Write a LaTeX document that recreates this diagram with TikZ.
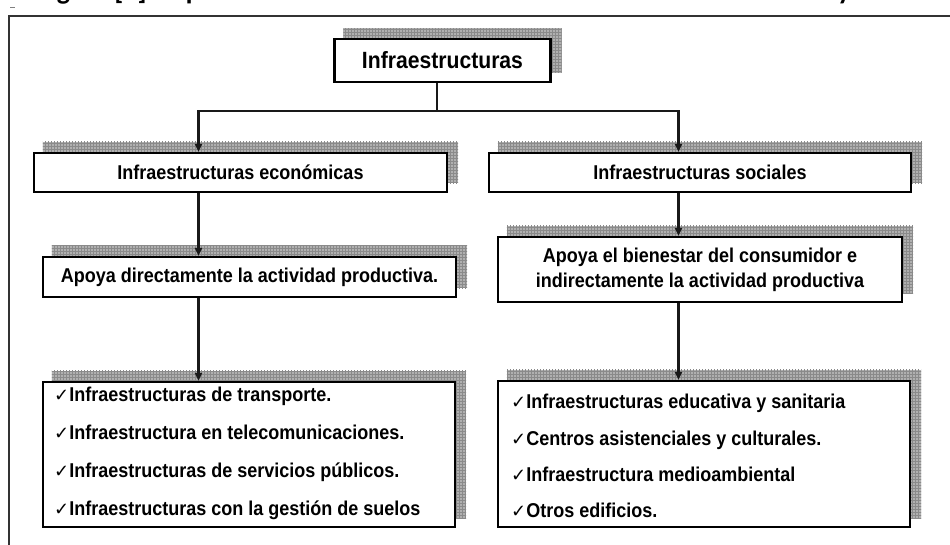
\documentclass[tikz,border=0pt]{standalone}
\usepackage{fontspec}
\setmainfont{Liberation Sans}[FakeStretch=0.9]
\newfontfamily\chkfont{DejaVu Sans}
\newfontfamily\titlefont{Carlito}
\usetikzlibrary{arrows.meta,patterns,backgrounds}
\newcommand\mychk{{\chkfont\fontsize{18}{18}\selectfont ✓}}
\newcommand\titletext{Figura [1] Esquema de conformación de la infraestructura económica y social}
\newlength\titlewd
\begin{document}
\settowidth\titlewd{\titlefont\bfseries\fontsize{24}{24}\selectfont\titletext}%
\pgfmathsetmacro\titlesize{885/\titlewd*24}%
\begin{tikzpicture}[x=1pt,y=-1pt,
  box/.style={draw=black, line width=2.2pt, fill=white, inner sep=0pt, font=\bfseries\fontsize{20}{25}\selectfont},
  shadowbox/.style={fill=gray!62, postaction={pattern=grid, pattern color=gray!92}},
  conn/.style={line width=2.2pt, draw=black!90},
  arr/.style={conn, -{Triangle[length=8pt,width=7pt]}},
  item/.style={anchor=base west, inner sep=0pt, font=\bfseries\fontsize{20}{25}\selectfont},
  frame/.style={line width=1.4pt, draw=black!80}]
\useasboundingbox (0,0) rectangle (950,545);
% title (cut off by the page edge)
\node[anchor=base west, inner sep=0pt, font=\titlefont\bfseries\fontsize{\titlesize}{\titlesize}\selectfont] (title) at (37,-0.5) {\titletext};
% frame
\draw[frame] (9,545) -- (9,16) -- (950,16);
\draw[gray, line width=0.8pt] (10,7) -- (15,7);
% boxes
\node[box, minimum width=216pt, minimum height=42.4pt, font=\bfseries\fontsize{23.5}{25}\selectfont] (root) at (442.5,60.5) {Infraestructuras};
\node[box, minimum width=413pt, minimum height=39pt] (econ) at (240.5,172.5) {Infraestructuras económicas};
\node[box, minimum width=422pt, minimum height=39pt] (soc) at (700,172.5) {Infraestructuras sociales};
\node[box, minimum width=413pt, minimum height=40pt] (apd) at (249.5,277) {Apoya directamente la actividad productiva.};
\node[box, minimum width=404pt, minimum height=65pt, align=center] (apb) at (700,269.5) {Apoya el bienestar del consumidor e\\indirectamente la actividad productiva};
\node[box, minimum width=412pt, minimum height=145pt] (listL) at (249,454.5) {};
\node[box, minimum width=412pt, minimum height=146pt] (listR) at (704,454) {};
% shadows
\begin{scope}[on background layer]
\foreach \n in {root,econ,soc,apd,apb,listL,listR}
  \fill[shadowbox] ([shift={(10,-10)}]\n.south west) rectangle ([shift={(10,-10)}]\n.north east);
\end{scope}
% list texts
\node[item] (l1) at (54,401) {\mychk Infraestructuras de transporte.};
\node[item] (l2) at (54,439.3) {\mychk Infraestructura en telecomunicaciones.};
\node[item] (l3) at (54,477.6) {\mychk Infraestructuras de servicios públicos.};
\node[item] (l4) at (54,515.9) {\mychk Infraestructuras con la gestión de suelos};
\node[item] (r1) at (511,408) {\mychk Infraestructuras educativa y sanitaria};
\node[item] (r2) at (511,445) {\mychk Centros asistenciales y culturales.};
\node[item] (r3) at (511,481) {\mychk Infraestructura medioambiental};
\node[item] (r4) at (511,517) {\mychk Otros edificios.};
% connectors
\coordinate (jn) at (437,111);
\coordinate (cL) at (198.5,0);
\coordinate (cR) at (678.5,0);
\draw[conn] (root.south -| jn) -- (jn);
\draw[arr] (jn) -| (econ.north -| cL);
\draw[arr] (jn) -| (soc.north -| cR);
\draw[arr] (econ.south -| cL) -- (apd.north -| cL);
\draw[arr] (apd.south -| cL) -- (listL.north -| cL);
\draw[arr] (soc.south -| cR) -- (apb.north -| cR);
\draw[arr] (apb.south -| cR) -- (listR.north -| cR);
\end{tikzpicture}
\end{document}
